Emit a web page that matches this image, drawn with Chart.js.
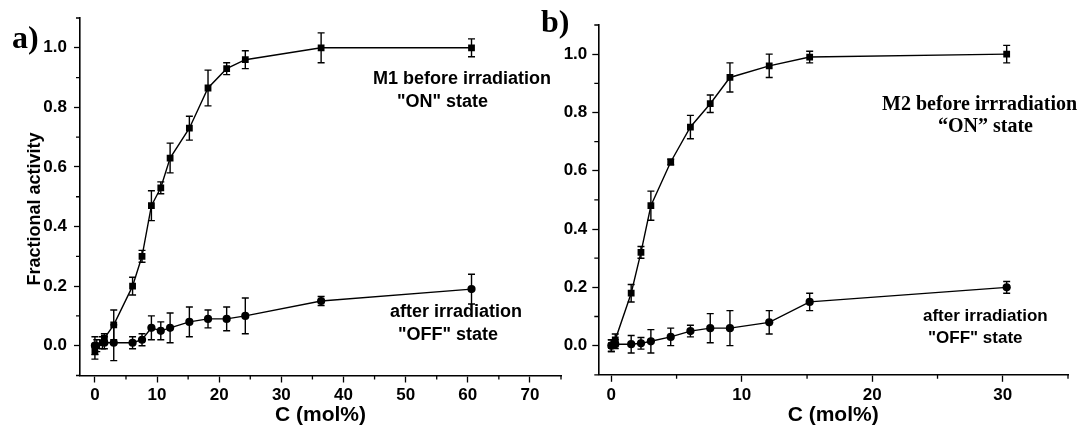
<!DOCTYPE html>
<html>
<head>
<meta charset="utf-8">
<script src="https://cdn.jsdelivr.net/npm/chart.js@4.4.1/dist/chart.umd.min.js"></script>
<style>
  body { margin: 0; background: #fff; }
  #wrap { position: relative; width: 1084px; height: 437px; }
  canvas { position: absolute; left: 0; top: 0; }
</style>
</head>
<body>
<div id="wrap">
  <canvas id="chartA" width="1084" height="437"></canvas>
  <canvas id="chartB" width="1084" height="437"></canvas>
</div>
<script>
// panel a) - M1
const m1OnX   = [0, 0.3, 1.2, 1.52, 3.03, 6.06, 7.58, 9.09, 10.6, 12.1, 15.2, 18.2, 21.2, 24.2, 36.4, 60.6];
const m1OnY   = [-0.02, 0.0, 0.01, 0.025, 0.07, 0.2, 0.3, 0.47, 0.53, 0.63, 0.73, 0.865, 0.93, 0.96, 1.0, 1.0];
const m1OnErr = [0.025, 0.02, 0.02, 0.015, 0.05, 0.03, 0.02, 0.05, 0.02, 0.05, 0.04, 0.06, 0.02, 0.03, 0.05, 0.03];

const m1OffX   = [0, 1.52, 3.03, 6.06, 7.58, 9.09, 10.6, 12.1, 15.2, 18.2, 21.2, 24.2, 36.4, 60.6];
const m1OffY   = [0.0, 0.01, 0.01, 0.01, 0.02, 0.06, 0.05, 0.06, 0.08, 0.09, 0.09, 0.1, 0.15, 0.19];
const m1OffErr = [0.03, 0.02, 0.06, 0.02, 0.02, 0.04, 0.03, 0.05, 0.05, 0.03, 0.04, 0.06, 0.015, 0.05];

// panel b) - M2
const m2OnX   = [0, 0.3, 1.52, 2.27, 3.03, 4.55, 6.06, 7.58, 9.09, 12.1, 15.2, 30.3];
const m2OnY   = [0.0, 0.02, 0.18, 0.32, 0.48, 0.63, 0.75, 0.83, 0.92, 0.96, 0.99, 1.0];
const m2OnErr = [0.02, 0.02, 0.03, 0.02, 0.05, 0.01, 0.04, 0.03, 0.05, 0.04, 0.02, 0.03];

const m2OffX   = [0, 0.3, 1.52, 2.27, 3.03, 4.55, 6.06, 7.58, 9.09, 12.1, 15.2, 30.3];
const m2OffY   = [0.0, 0.005, 0.005, 0.008, 0.015, 0.03, 0.05, 0.06, 0.06, 0.08, 0.15, 0.2];
const m2OffErr = [0.02, 0.015, 0.03, 0.02, 0.04, 0.03, 0.02, 0.05, 0.06, 0.04, 0.03, 0.02];

// ticks
const xTicksA = [0, 10, 20, 30, 40, 50, 60, 70];
const xMinorA = [5, 15, 25, 35, 45, 55, 65, 75];
const xTicksB = [0, 10, 20, 30];
const xMinorB = [5, 15, 25, 35];
const yTicks  = [0.0, 0.2, 0.4, 0.6, 0.8, 1.0];
const yMinor  = [-0.1, 0.1, 0.3, 0.5, 0.7, 0.9, 1.1];

const SANS = '"Liberation Sans", Arial, sans-serif';
const SERIF = '"Liberation Serif", "Times New Roman", serif';

function pts(xs, ys) {
	return xs.map((x, i) => ({ x: x, y: ys[i] }));
}

// error bars drawn through the chart scales
const errorBars = {
	id: 'errorBars',
	afterDatasetsDraw(chart) {
		const ctx = chart.ctx;
		const xs = chart.scales.x, ys = chart.scales.y;
		ctx.save();
		ctx.strokeStyle = '#000';
		ctx.lineWidth = 1.4;
		chart.data.datasets.forEach(ds => {
			if (!ds.errors) {
				return;
			}
			ds.data.forEach((p, i) => {
				const e = ds.errors[i];
				const px = xs.getPixelForValue(p.x);
				const top = ys.getPixelForValue(p.y + e);
				const bot = ys.getPixelForValue(p.y - e);
				ctx.beginPath();
				ctx.moveTo(px, top); ctx.lineTo(px, bot);
				ctx.moveTo(px - 3.5, top); ctx.lineTo(px + 3.5, top);
				ctx.moveTo(px - 3.5, bot); ctx.lineTo(px + 3.5, bot);
				ctx.stroke();
			});
		});
		ctx.restore();
	}
};

// minor ticks (outward, shorter than major ones)
const minorTicks = {
	id: 'minorTicks',
	afterDraw(chart, args, opts) {
		const { ctx, chartArea } = chart;
		const xs = chart.scales.x, ys = chart.scales.y;
		ctx.save();
		ctx.strokeStyle = '#000';
		ctx.lineWidth = 1.3;
		ctx.beginPath();
		opts.x.forEach(v => {
			const px = xs.getPixelForValue(v);
			ctx.moveTo(px, chartArea.bottom);
			ctx.lineTo(px, chartArea.bottom + 4);
		});
		opts.y.forEach(v => {
			const py = ys.getPixelForValue(v);
			ctx.moveTo(chartArea.left, py);
			ctx.lineTo(chartArea.left - 4, py);
		});
		ctx.stroke();
		ctx.restore();
	}
};

// free text labels
const notes = {
	id: 'notes',
	afterDraw(chart, args, opts) {
		const ctx = chart.ctx;
		opts.items.forEach(n => {
			ctx.save();
			ctx.fillStyle = '#000';
			ctx.font = n.font;
			ctx.textBaseline = n.rot ? 'middle' : 'alphabetic';
			ctx.textAlign = n.rot ? 'center' : 'left';
			ctx.translate(n.x, n.y);
			if (n.rot) {
				ctx.rotate(n.rot);
			}
			ctx.fillText(n.text, 0, 0);
			ctx.restore();
		});
	}
};

function makeChart(id, cfg) {
	const tickFont = { family: SANS, size: 17, weight: 'bold' };
	return new Chart(
		document.getElementById(id),
		{
			type: 'scatter',
			data: {
				datasets: [
					{
						data: pts(cfg.onX, cfg.onY),
						errors: cfg.onErr,
						showLine: true,
						borderColor: '#000',
						borderWidth: 1.4,
						backgroundColor: '#000',
						pointStyle: 'rect',
						pointRadius: 4.8,
						pointBorderWidth: 0
					},
					{
						data: pts(cfg.offX, cfg.offY),
						errors: cfg.offErr,
						showLine: true,
						borderColor: '#000',
						borderWidth: 1.4,
						backgroundColor: '#000',
						pointStyle: 'circle',
						pointRadius: 4.1,
						pointBorderWidth: 0
					}
				]
			},
			options: {
				responsive: false,
				animation: false,
				layout: { padding: cfg.padding },
				plugins: {
					legend: { display: false },
					tooltip: { enabled: false },
					minorTicks: { x: cfg.xMinor, y: yMinor },
					notes: { items: cfg.notes }
				},
				scales: {
					x: {
						type: 'linear',
						min: cfg.xMin,
						max: cfg.xMax,
						afterBuildTicks: s => { s.ticks = cfg.xTicks.map(v => ({ value: v })); },
						afterFit: s => { s.height = cfg.xHeight; },
						ticks: { font: tickFont, color: '#000', padding: 3, maxRotation: 0, callback: v => String(v) },
						grid: { drawOnChartArea: false, drawTicks: true, tickLength: 7, tickColor: '#000', tickWidth: 1.3, color: '#000' },
						border: { display: true, color: '#000', width: 1.6 },
						title: {
							display: true,
							text: 'C (mol%)',
							color: '#000',
							font: { family: SANS, size: 21, weight: 'bold' },
							padding: { top: 0, bottom: 9 }
						}
					},
					y: {
						type: 'linear',
						min: -0.1,
						max: 1.1,
						afterBuildTicks: s => { s.ticks = yTicks.map(v => ({ value: v })); },
						afterFit: s => { s.width = cfg.yWidth; },
						ticks: { font: tickFont, color: '#000', padding: cfg.yPad, callback: v => Number(v).toFixed(1) },
						grid: { drawOnChartArea: false, drawTicks: true, tickLength: 6, tickColor: '#000', tickWidth: 1.3, color: '#000' },
						border: { display: true, color: '#000', width: 1.6 }
					}
				}
			},
			plugins: [errorBars, minorTicks, notes]
		}
	);
}

makeChart('chartA', {
	onX: m1OnX, onY: m1OnY, onErr: m1OnErr,
	offX: m1OffX, offY: m1OffY, offErr: m1OffErr,
	xMin: -2.4, xMax: 75, xTicks: xTicksA, xMinor: xMinorA,
	xHeight: 61.5, yWidth: 80, yPad: 7,
	padding: { top: 18, right: 523, bottom: 0, left: 0 },
	notes: [
		{ text: 'a)', x: 12, y: 48, font: 'bold 32px ' + SERIF },
		{ text: 'Fractional activity', x: 35, y: 209, rot: -Math.PI / 2, font: 'bold 18px ' + SANS },
		{ text: 'M1 before irradiation', x: 373, y: 84, font: 'bold 18px ' + SANS },
		{ text: '"ON" state', x: 397, y: 107, font: 'bold 18px ' + SANS },
		{ text: 'after irradiation', x: 390, y: 317, font: 'bold 18px ' + SANS },
		{ text: '"OFF" state', x: 398, y: 340, font: 'bold 18px ' + SANS }
	]
});

makeChart('chartB', {
	onX: m2OnX, onY: m2OnY, onErr: m2OnErr,
	offX: m2OffX, offY: m2OffY, offErr: m2OffErr,
	xMin: -1, xMax: 35, xTicks: xTicksB, xMinor: xMinorB,
	xHeight: 62.2, yWidth: 598.3, yPad: 5,
	padding: { top: 25, right: 16, bottom: 0, left: 0 },
	notes: [
		{ text: 'b)', x: 541, y: 32, font: 'bold 32px ' + SERIF },
		{ text: 'M2 before irrradiation', x: 882, y: 110, font: 'bold 20px ' + SERIF },
		{ text: '\u201cON\u201d state', x: 938, y: 132, font: 'bold 20px ' + SERIF },
		{ text: 'after irradiation', x: 923, y: 321, font: 'bold 17px ' + SANS },
		{ text: '"OFF" state', x: 928, y: 343, font: 'bold 17px ' + SANS }
	]
});
</script>
</body>
</html>
